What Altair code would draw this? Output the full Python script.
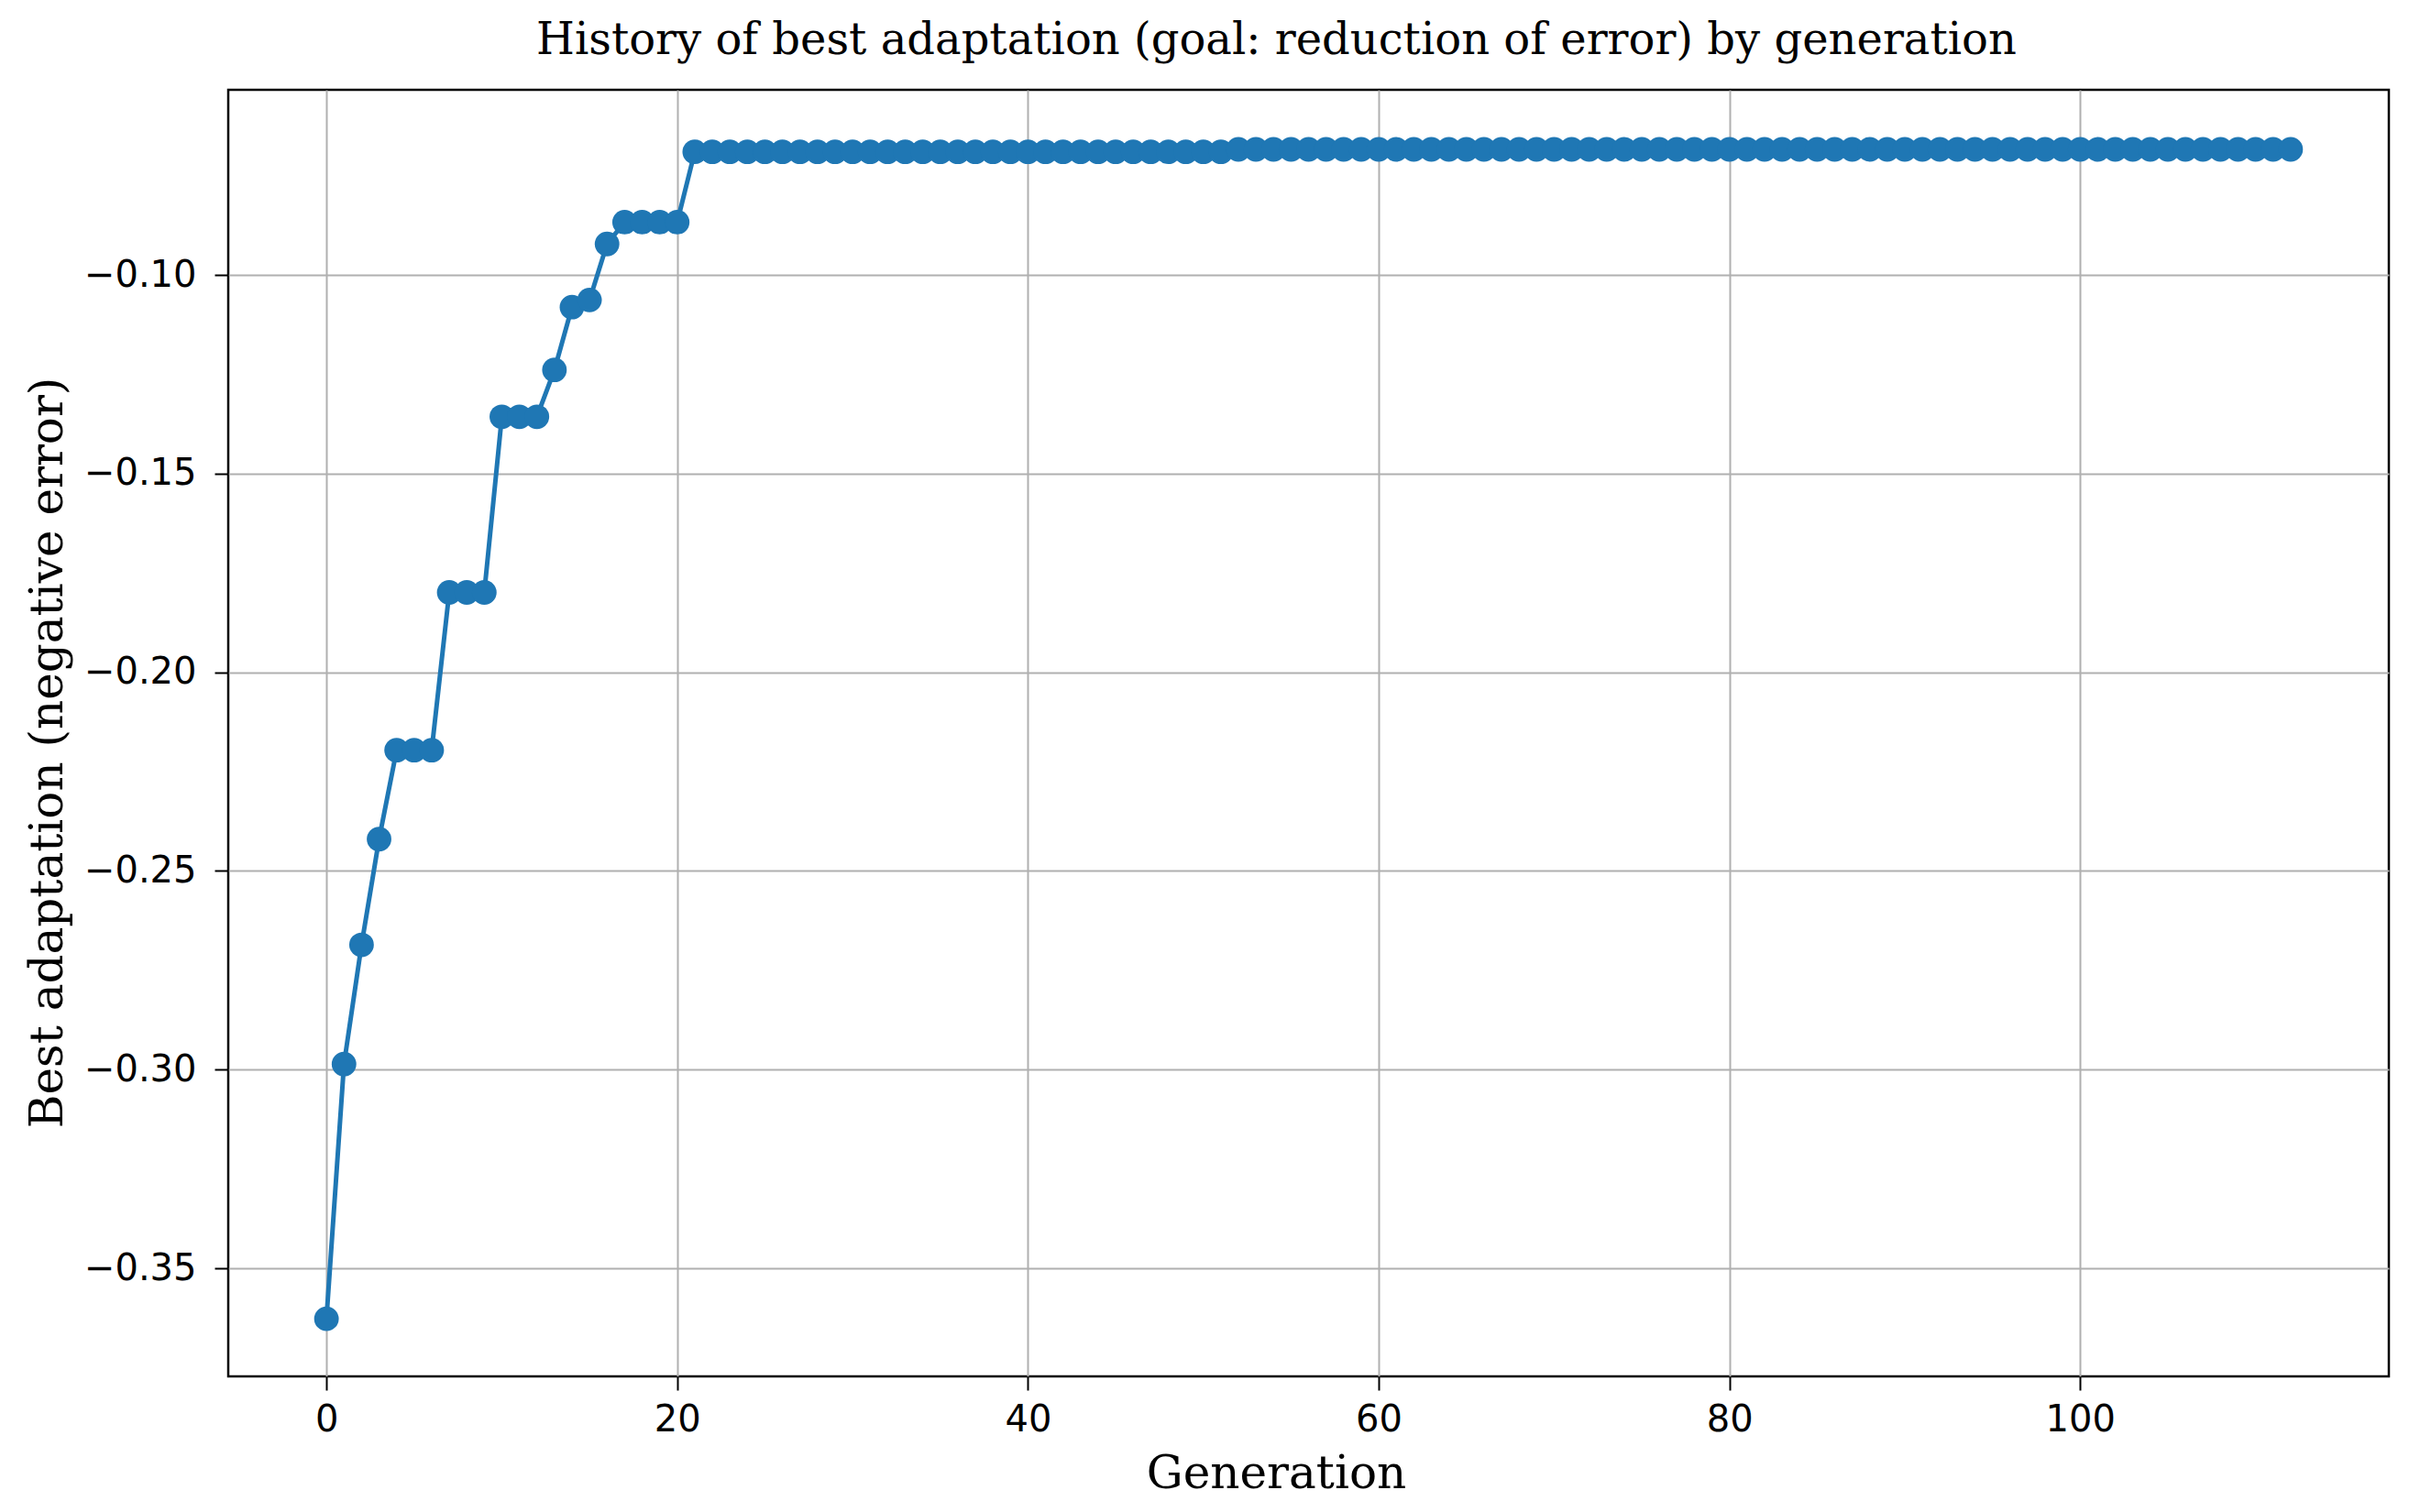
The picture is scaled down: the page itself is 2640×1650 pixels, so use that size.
import altair as alt
import pandas as pd

generations = list(range(0, 113))

best_fitness = [
    -0.3627, -0.2986, -0.2686, -0.2420, -0.2196, -0.2196, -0.2196, -0.1799,
    -0.1799, -0.1799, -0.1357, -0.1357, -0.1357, -0.1239, -0.1081, -0.1063,
    -0.0922, -0.0867, -0.0867, -0.0867, -0.0867,
    # 21 - 51
    -0.0690, -0.0690, -0.0690, -0.0690, -0.0690, -0.0690, -0.0690, -0.0690,
    -0.0690, -0.0690, -0.0690, -0.0690, -0.0690, -0.0690, -0.0690, -0.0690,
    -0.0690, -0.0690, -0.0690, -0.0690, -0.0690, -0.0690, -0.0690, -0.0690,
    -0.0690, -0.0690, -0.0690, -0.0690, -0.0690, -0.0690, -0.0690,
    # 52 - 112
    -0.0684, -0.0684, -0.0684, -0.0684, -0.0684, -0.0684, -0.0684, -0.0684,
    -0.0684, -0.0684, -0.0684, -0.0684, -0.0684, -0.0684, -0.0684, -0.0684,
    -0.0684, -0.0684, -0.0684, -0.0684, -0.0684, -0.0684, -0.0684, -0.0684,
    -0.0684, -0.0684, -0.0684, -0.0684, -0.0684, -0.0684, -0.0684, -0.0684,
    -0.0684, -0.0684, -0.0684, -0.0684, -0.0684, -0.0684, -0.0684, -0.0684,
    -0.0684, -0.0684, -0.0684, -0.0684, -0.0684, -0.0684, -0.0684, -0.0684,
    -0.0684, -0.0684, -0.0684, -0.0684, -0.0684, -0.0684, -0.0684, -0.0684,
    -0.0684, -0.0684, -0.0684, -0.0684, -0.0684,
]

x_ticks = [0, 20, 40, 60, 80, 100]
y_ticks = [-0.35, -0.30, -0.25, -0.20, -0.15, -0.10]

title_text = "History of best adaptation (goal: reduction of error) by generation"
x_title = "Generation"
y_title = "Best adaptation (negative error)"

df = pd.DataFrame({"gen": generations, "fit": best_fitness})

BLUE = "#1f77b4"
SERIF = "DejaVu Serif"
SANS = "DejaVu Sans"

PLOT_W = 2357
PLOT_H = 1404

x_enc = alt.X(
    "gen:Q",
    scale=alt.Scale(domain=[-5.6, 117.6], nice=False, zero=False),
    axis=alt.Axis(
        values=x_ticks,
        format="d",
        title=x_title,
        titleFont=SERIF,
        titleFontSize=50,
        titleFontWeight="normal",
        titleColor="black",
        titleX=1143,
        titleY=121,
        titleBaseline="alphabetic",
        titleAlign="center",
        labelFont=SANS,
        labelFontSize=40,
        labelColor="black",
        labelPadding=12,
        tickSize=15,
        tickWidth=2,
        tickColor="black",
        domain=False,
        grid=True,
        gridColor="#b0b0b0",
        gridWidth=2,
    ),
)

y_enc = alt.Y(
    "fit:Q",
    scale=alt.Scale(domain=[-0.3772, -0.0534], nice=False, zero=False),
    axis=alt.Axis(
        values=y_ticks,
        format=".2f",
        title=y_title,
        titleFont=SERIF,
        titleFontSize=50,
        titleFontWeight="normal",
        titleColor="black",
        titleAngle=270,
        titleX=-182,
        titleY=723,
        titleBaseline="alphabetic",
        titleAlign="center",
        labelFont=SANS,
        labelFontSize=40,
        labelColor="black",
        labelPadding=20,
        tickSize=15,
        tickWidth=2,
        tickColor="black",
        domain=False,
        grid=True,
        gridColor="#b0b0b0",
        gridWidth=2,
    ),
)

base = alt.Chart(df)

line = base.mark_line(color=BLUE, strokeWidth=5).encode(x=x_enc, y=y_enc)
pts = base.mark_circle(color=BLUE, size=720, opacity=1).encode(x=x_enc, y=y_enc)

chart = (
    alt.layer(line, pts)
    .properties(
        width=PLOT_W,
        height=PLOT_H,
        background="white",
        title=alt.TitleParams(
            text=title_text,
            font=SERIF,
            fontSize=48,
            fontWeight="normal",
            color="black",
            anchor="middle",
            frame="group",
            baseline="alphabetic",
            offset=7,
            dy=16,
            dx=-35,
        ),
        autosize=alt.AutoSizeParams(type="none"),
        padding={"left": 241, "top": 90, "right": 20, "bottom": 142},
    )
    .configure_view(stroke="black", strokeWidth=2.5)
)

chart.save("out.html", embed_options={"renderer": "svg", "actions": False})
